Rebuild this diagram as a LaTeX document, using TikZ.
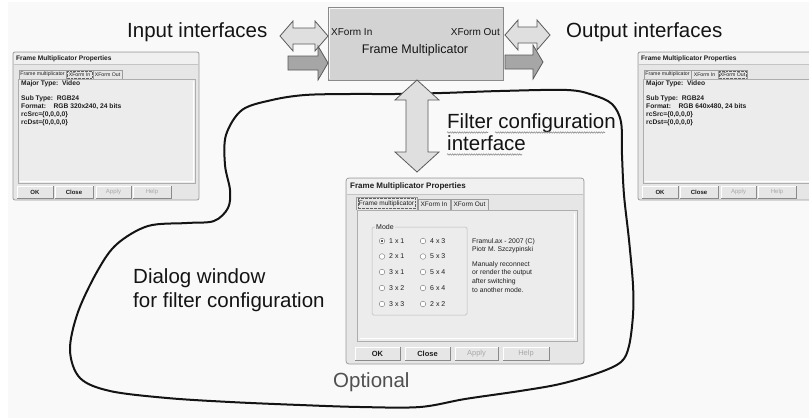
\documentclass[tikz,border=0pt]{standalone}
\usepackage{fontspec}
\setmainfont{Liberation Sans}
\usetikzlibrary{decorations.pathmorphing}
\definecolor{pagebg}{HTML}{F9F9F9}
\definecolor{ink}{HTML}{141414}
\definecolor{optgray}{HTML}{505050}
\definecolor{boxfill}{HTML}{D3D3D3}
\definecolor{boxline}{HTML}{8A8A8A}
\definecolor{lightarr}{HTML}{DFDFDF}
\definecolor{darkarr}{HTML}{A6A6A6}
\definecolor{arrline}{HTML}{5A5A5A}
\definecolor{dlgface}{HTML}{E6E6E6}
\definecolor{dlgline}{HTML}{9C9C9C}
\definecolor{dlgtitle}{HTML}{F0F0F0}
\definecolor{dlgpanel}{HTML}{ECECEC}
\definecolor{dlgtext}{HTML}{1E1E1E}
\definecolor{dlgdis}{HTML}{A8A8A8}
\definecolor{btnshadow}{HTML}{8A8A8A}
\definecolor{squig}{HTML}{8C8C8C}

\tikzset{
  biglabel/.style={font=\fontsize{20.5}{24}\selectfont, text=ink, inner sep=0pt, anchor=base west},
  lightarrow/.style={fill=lightarr, draw=arrline, line width=0.8pt, line join=miter},
  darkarrow/.style={fill=darkarr, draw=arrline, line width=0.8pt, line join=miter},
  bloop/.style={draw=ink, line width=2pt, line join=round},
  squiggle/.style={draw=squig, line width=0.6pt, decorate, decoration={snake, amplitude=0.7pt, segment length=2.4pt}},
  dlgframe/.style={fill=dlgface, draw=dlgline, line width=0.8pt, rounded corners=2pt},
  panelbox/.style={fill=dlgpanel, draw=btnshadow!70, line width=0.6pt},
  tabline/.style={draw=dlgline, line width=0.5pt},
  focusbox/.style={draw=dlgtext!70, dash pattern=on 0.45pt off 0.9pt, line width=0.35pt},
  btntext/.style={inner sep=0pt, text=dlgtext, font=\bfseries\fontsize{#1}{#1}\selectfont},
  distext/.style={inner sep=0pt, text=dlgdis, font=\fontsize{#1}{#1}\selectfont},
  radio/.style={fill=white, draw=btnshadow, line width=0.5pt},
}

% button: name, x1, y1, x2, y2, text, node style
\newcommand\dlgbtn[7]{%
  \fill[dlgface] (#2,#3) rectangle (#4,#5);
  \draw[white, line width=0.8pt] (#2,#5) -- (#2,#3) -- (#4,#3);
  \draw[btnshadow, line width=0.8pt] (#2,#5) -- (#4,#5) -- (#4,#3);
  \node[#7] (#1) at ({(#2+#4)/2},{(#3+#5)/2}) {#6};
}

% small dialog: x shift, prefix, format text, focus x1, focus x2
\newcommand\smalldlg[5]{%
\begin{scope}[shift={(#1,0)}]
  \draw[dlgframe] (13,52) rectangle (199,200);
  \fill[dlgtitle] (14,53) rectangle (198,64);
  \draw[dlgline!60, line width=0.4pt] (14,64) -- (198,64);
  \node[anchor=west, inner sep=0pt, text=dlgtext, font=\bfseries\fontsize{6.6}{7}\selectfont] (#2title) at (16,58.5) {Frame Multiplicator Properties};
  \draw[tabline] (19,79) -- (19,70) -- (66,70) -- (66,79);
  \draw[tabline] (66,79) -- (66,70) -- (93,70) -- (93,79);
  \draw[tabline] (93,79) -- (93,70) -- (122,70) -- (122,79);
  \node[inner sep=0pt, text=dlgtext, font=\fontsize{5.2}{6}\selectfont] (#2tabA) at (42.5,74.5) {Frame multiplicator};
  \node[inner sep=0pt, text=dlgtext, font=\fontsize{5.2}{6}\selectfont] (#2tabB) at (79.5,74.5) {XForm In};
  \node[inner sep=0pt, text=dlgtext, font=\fontsize{5.2}{6}\selectfont] (#2tabC) at (107.5,74.5) {XForm Out};
  \draw[focusbox] (#4,71) rectangle (#5,78);
  \draw[panelbox] (18,79) rectangle (195,183);
  \draw[white, line width=0.5pt] (20,181) -- (193,181) -- (193,81);
  \begin{scope}[every node/.style={anchor=west, inner sep=0pt, text=dlgtext, font=\bfseries\fontsize{6.7}{7}\selectfont}]
    \node (#2major) at (21,84) {Major Type:\ \ Video};
    \node (#2sub) at (21,99) {Sub Type:\ \ RGB24};
    \node (#2fmt) at (21,107) {Format:\ \ \ \ #3};
    \node (#2src) at (21,115) {rcSrc=\{0,0,0,0\}};
    \node (#2dst) at (21,123) {rcDst=\{0,0,0,0\}};
  \end{scope}
  \dlgbtn{#2ok}{17}{186}{53}{198}{OK}{btntext=6}
  \dlgbtn{#2close}{55}{186}{93}{198}{Close}{btntext=6}
  \dlgbtn{#2apply}{96}{186}{131}{198}{Apply}{distext=6}
  \dlgbtn{#2help}{133}{186}{171}{198}{Help}{distext=6}
\end{scope}}

\begin{document}
\begin{tikzpicture}[x=1pt, y=-1pt]
\clip (0,0) rectangle (809,418);
\fill[white] (0,0) rectangle (809,418);
\fill[pagebg] (8,2) rectangle (809,418);

% ---------- side dialogs ----------
\smalldlg{0}{L}{RGB 320x240, 24 bits}{67}{92}
\smalldlg{625}{R}{RGB 640x480, 24 bits}{94}{121}

% ---------- closed loop ----------
\draw[bloop] plot[smooth cycle, tension=0.55] coordinates {
  (272,100) (305,95) (350,94) (395,94) (442,93) (500,91) (567,90) (593,95)
  (612,104) (621,122) (622,155) (624,195) (629,240) (633,285) (633,315)
  (629,346) (621,362) (598,373) (560,384) (520,391) (465,399) (420,407)
  (360,407) (300,405) (230,402) (167,398) (110,391) (80,378) (70,350)
  (78,312) (98,270) (117,244) (148,226) (187,223) (214,221) (228,208)
  (230,190) (225,165) (226,135) (242,110)};

% ---------- filter box ----------
\fill[boxfill] (328,7) rectangle (503,80);
\draw[white!85!boxfill, line width=0.8pt] (329.5,78.5) -- (329.5,8.5) -- (501.5,8.5);
\draw[boxline, line width=1pt] (328,7) rectangle (503,80);
\node[anchor=base west, inner sep=0pt, text=ink, font=\fontsize{10}{12}\selectfont] (xin) at (331,35) {XForm In};
\node[anchor=base east, inner sep=0pt, text=ink, font=\fontsize{10}{12}\selectfont] (xout) at (500,35) {XForm Out};
\node[anchor=base, inner sep=0pt, text=ink, font=\fontsize{12.5}{14}\selectfont] (fm) at (415,53) {Frame Multiplicator};

% ---------- interface arrows ----------
\draw[lightarrow] (280,36) -- (293,21) -- (293,28) -- (315,28) -- (315,21) -- (328,36)
  -- (315,51) -- (315,44) -- (293,44) -- (293,51) -- cycle;
\draw[darkarrow] (288,56) -- (318,56) -- (318,46) -- (328,63) -- (318,80) -- (318,70) -- (288,70) -- cycle;
\draw[lightarrow] (505,35) -- (518,20) -- (518,27) -- (537,27) -- (537,20) -- (550,35)
  -- (537,50) -- (537,43) -- (518,43) -- (518,50) -- cycle;
\draw[darkarrow] (505,55) -- (533,55) -- (533,45) -- (543,62) -- (533,79) -- (533,69) -- (505,69) -- cycle;

% vertical double arrow
\draw[lightarrow] (417,80) -- (439,100) -- (428,100) -- (428,152) -- (439,152) -- (417,172)
  -- (395,152) -- (406,152) -- (406,100) -- (395,100) -- cycle;

% ---------- labels ----------
\node[biglabel] (inlbl) at (127,37) {Input interfaces};
\node[biglabel] (outlbl) at (566,37) {Output interfaces};
\node[biglabel] (fci1) at (447,128) {Filter configuration};
\node[biglabel] (fci2) at (447,150) {interface};
\draw[squiggle] (447,132.5) -- (488,132.5);
\draw[squiggle] (495,132.5) -- (605,132.5);
\draw[squiggle] (447,154.5) -- (522,154.5);
\node[biglabel] (dw1) at (133,283) {Dialog window};
\node[biglabel] (dw2) at (133,307) {for filter configuration};
\node[biglabel, text=optgray] (opt) at (333,387) {Optional};

% ---------- central dialog ----------
\draw[dlgframe, rounded corners=3pt] (346,178) rectangle (584,364);
\fill[dlgtitle] (347,179) rectangle (583,194);
\draw[dlgline!60, line width=0.4pt] (347,194) -- (583,194);
\node[anchor=west, inner sep=0pt, text=dlgtext, font=\bfseries\fontsize{8}{9}\selectfont] (ctitle) at (350,186.5) {Frame Multiplicator Properties};
\draw[tabline] (356,210) -- (356,197) -- (417,197) -- (417,210);
\draw[tabline] (418,210) -- (418,199) -- (450,199) -- (450,210);
\draw[tabline] (451,210) -- (451,199) -- (488,199) -- (488,210);
\node[inner sep=0pt, text=dlgtext, font=\fontsize{6.5}{7}\selectfont] (ctabA) at (386.5,203.5) {Frame multiplicator};
\node[inner sep=0pt, text=dlgtext, font=\fontsize{6.5}{7}\selectfont] (ctabB) at (434,204.5) {XForm In};
\node[inner sep=0pt, text=dlgtext, font=\fontsize{6.5}{7}\selectfont] (ctabC) at (469.5,204.5) {XForm Out};
\draw[focusbox] (358,198.5) rectangle (415,208.5);
\draw[panelbox] (357,210) rectangle (577,341);
\draw[white, line width=0.6pt] (359.5,338.5) -- (574.5,338.5) -- (574.5,212.5);
\draw[btnshadow!60, line width=0.5pt, rounded corners=1.5pt] (372,227) rectangle (467,315);
\node[anchor=west, fill=dlgpanel, inner sep=1pt, text=dlgtext, font=\fontsize{7}{8}\selectfont] (mode) at (375,227) {Mode};
\begin{scope}[every node/.style={anchor=west, inner sep=0pt, text=dlgtext, font=\fontsize{7}{8}\selectfont}]
  \draw[radio] (382,241) circle (2.8);
  \fill[dlgtext] (382,241) circle (1.2);
  \node (r11) at (389,241) {1 x 1};
  \draw[radio] (382,256.5) circle (2.8); \node (r21) at (389,256.5) {2 x 1};
  \draw[radio] (382,272) circle (2.8); \node (r31) at (389,272) {3 x 1};
  \draw[radio] (382,288) circle (2.8); \node (r32) at (389,288) {3 x 2};
  \draw[radio] (382,304) circle (2.8); \node (r33) at (389,304) {3 x 3};
  \draw[radio] (423,241) circle (2.8); \node (r43) at (430,241) {4 x 3};
  \draw[radio] (423,256.5) circle (2.8); \node (r53) at (430,256.5) {5 x 3};
  \draw[radio] (423,272) circle (2.8); \node (r54) at (430,272) {5 x 4};
  \draw[radio] (423,288) circle (2.8); \node (r64) at (430,288) {6 x 4};
  \draw[radio] (423,304) circle (2.8); \node (r22) at (430,304) {2 x 2};
\end{scope}
\node[anchor=north west, inner sep=0pt, align=left, text=dlgtext, font=\fontsize{6.8}{8.6}\selectfont] (info) at (472,238)
  {Framul.ax - 2007 (C)\\Piotr M. Szczypinski\\[6pt]Manualy reconnect\\or render the output\\after switching\\to another mode.};
\dlgbtn{cok}{355}{347}{400}{360}{OK}{btntext=7.5}
\dlgbtn{cclose}{405}{347}{450}{360}{Close}{btntext=7.5}
\dlgbtn{capply}{455}{347}{498}{360}{Apply}{distext=7.5}
\dlgbtn{chelp}{503}{347}{549}{360}{Help}{distext=7.5}
\end{tikzpicture}
\end{document}
